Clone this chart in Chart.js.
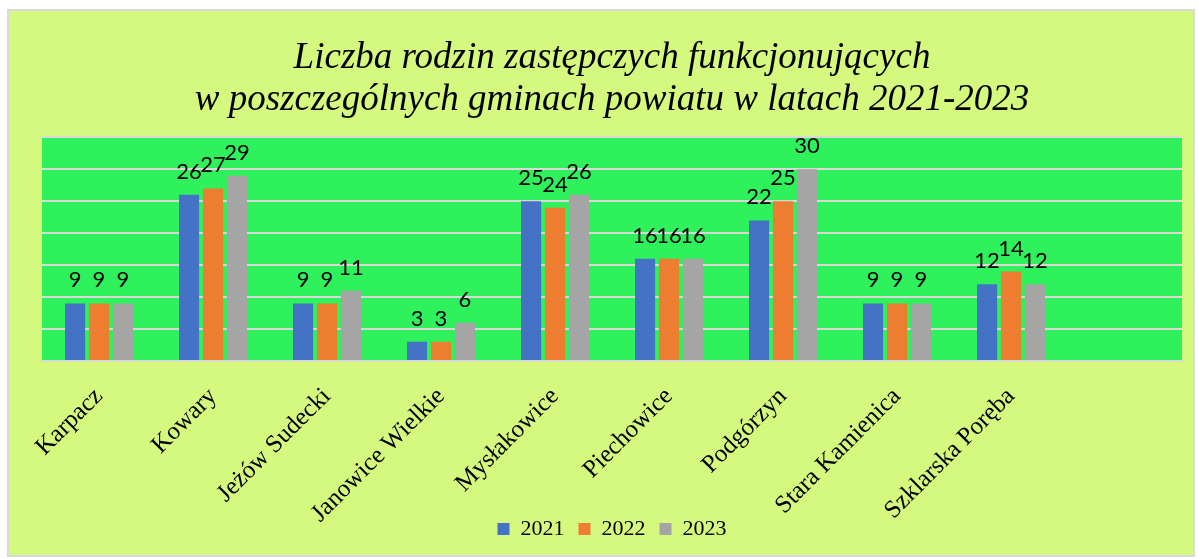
<!DOCTYPE html>
<html>
<head>
<meta charset="utf-8">
<script src="https://cdn.jsdelivr.net/npm/chart.js@4/dist/chart.umd.min.js"></script>
<style>
  html, body { margin: 0; padding: 0; background: #ffffff; }
  #wrap {
    position: absolute; left: 7px; top: 9px;
    width: 1184px; height: 544px;
    border: 2px solid #d9d9d9;
    background: #d5f97f;
  }
</style>
</head>
<body>
<div id="wrap"><canvas id="chart"></canvas></div>
<script>
const gminy = ["Karpacz", "Kowary", "Jeżów Sudecki", "Janowice Wielkie", "Mysłakowice",
  "Piechowice", "Podgórzyn", "Stara Kamienica", "Szklarska Poręba", ""];
const lata = ["2021", "2022", "2023"];
const rok2021 = [9, 26, 9, 3, 25, 16, 22, 9, 12, null];
const rok2022 = [9, 27, 9, 3, 24, 16, 25, 9, 14, null];
const rok2023 = [9, 29, 11, 6, 26, 16, 30, 9, 12, null];
const kolory = ["#4472c4", "#ed7d31", "#a5a5a5"];

// green plot background
const plotBg = {
  id: "plotBg",
  beforeDraw(chart) {
    const { ctx, chartArea: a } = chart;
    ctx.save();
    ctx.fillStyle = "#2ff15b";
    ctx.fillRect(a.left, a.top, a.right - a.left, a.bottom - a.top);
    ctx.restore();
  }
};

// the long rotated names hang below the axis box, let them show
const unclipLabels = {
  id: "unclipLabels",
  afterLayout(chart) {
    chart.scales.x.bottom = chart.height;
  }
};

// value labels above bars
const valueLabels = {
  id: "valueLabels",
  afterDatasetsDraw(chart) {
    const ctx = chart.ctx;
    ctx.save();
    ctx.font = "22px Lato";
    ctx.fillStyle = "#000";
    ctx.textAlign = "center";
    ctx.textBaseline = "alphabetic";
    chart.data.datasets.forEach((ds, i) => {
      chart.getDatasetMeta(i).data.forEach((bar, j) => {
        if (ds.data[j] == null) return;
        ctx.fillText(ds.data[j], bar.x, bar.y - 16);
      });
    });
    ctx.restore();
  }
};

const serieData = [rok2021, rok2022, rok2023];

new Chart(document.getElementById("chart"), {
  type: "bar",
  data: {
    labels: gminy,
    datasets: lata.map((rok, i) => ({
      label: rok,
      data: serieData[i],
      backgroundColor: kolory[i],
      categoryPercentage: 0.63,
      barPercentage: 0.84
    }))
  },
  options: {
    responsive: true,
    maintainAspectRatio: false,
    animation: false,
    layout: { padding: { left: 33, right: 11, top: 0, bottom: 5 } },
    plugins: {
      title: {
        display: true,
        text: ["Liczba rodzin zastępczych funkcjonujących", "w poszczególnych gminach powiatu w latach 2021-2023"],
        font: { family: "Liberation Serif", size: 37, style: "italic", weight: "normal", lineHeight: 1.14 },
        color: "#000",
        padding: { top: 26, bottom: 16 }
      },
      legend: {
        position: "bottom",
        labels: {
          font: { family: "Liberation Serif", size: 22 },
          color: "#000",
          boxWidth: 12,
          boxHeight: 12,
          padding: 14
        }
      },
      tooltip: { enabled: false }
    },
    scales: {
      x: {
        grid: { display: false },
        border: { color: "#d9d9d9", width: 2 },
        ticks: {
          color: "#000",
          font: { family: "Liberation Serif", size: 25 },
          minRotation: 45,
          maxRotation: 45,
          padding: 13
        },
        afterFit(scale) { scale.height = 143; }
      },
      y: {
        min: 0,
        max: 35,
        ticks: { display: false, stepSize: 5 },
        grid: { color: "#d9d9d9", lineWidth: 2, drawTicks: false },
        border: { display: false }
      }
    }
  },
  plugins: [plotBg, unclipLabels, valueLabels]
});
</script>
</body>
</html>
